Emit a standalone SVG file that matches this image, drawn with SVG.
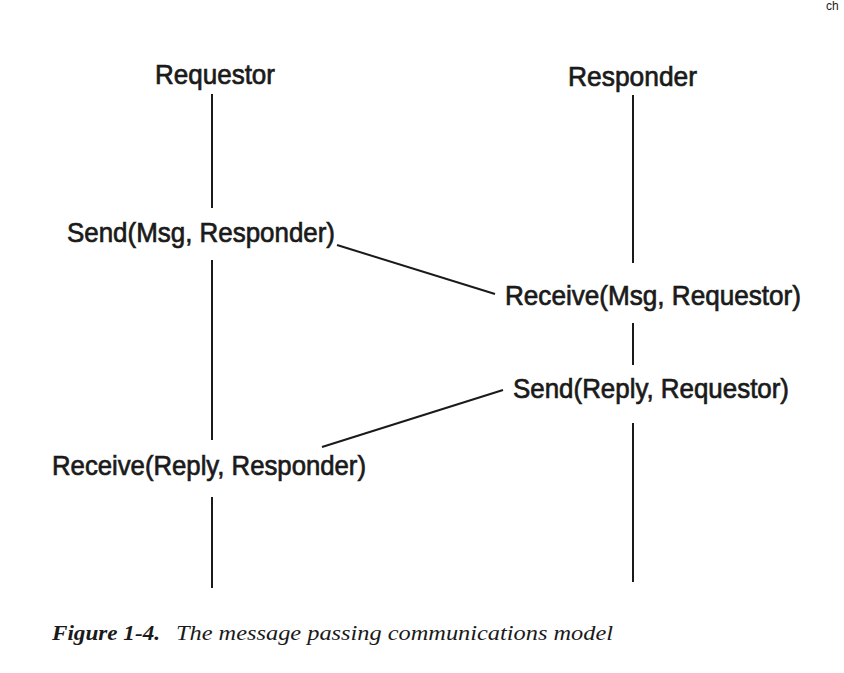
<svg xmlns="http://www.w3.org/2000/svg" width="844" height="673" viewBox="0 0 844 673">
<style>
.lbl{font-family:"Liberation Sans",Arial,sans-serif;font-size:28px;fill:#1a1a1a;stroke:#1a1a1a;stroke-width:0.7px}
.life{stroke:#1a1a1a;stroke-width:2;fill:none}
.msg{stroke:#1a1a1a;stroke-width:2;fill:none}
.cap{font-family:"Liberation Serif","Times New Roman",serif;font-size:21px;font-style:italic;fill:#1a1a1a}
</style>
<rect width="844" height="673" fill="#ffffff"/>
<text x="826" y="10" font-family="Liberation Sans, sans-serif" font-size="12" fill="#1a1a1a">ch</text>
<g id="lifelines">
<g id="requestor-lifeline">
<line class="life" x1="212" y1="94" x2="212" y2="208"/>
<line class="life" x1="212" y1="260" x2="212" y2="440"/>
<line class="life" x1="212" y1="497" x2="212" y2="588"/>
</g>
<g id="responder-lifeline">
<line class="life" x1="633" y1="95" x2="633" y2="263"/>
<line class="life" x1="633" y1="323" x2="633" y2="365"/>
<line class="life" x1="633" y1="423" x2="633" y2="582"/>
</g>
</g>
<g id="connectors">
<line class="msg" x1="337" y1="245" x2="495" y2="294"/>
<line class="msg" x1="503" y1="390" x2="322" y2="447"/>
</g>
<g id="requestor"><text class="lbl" x="155" y="84" textLength="120" lengthAdjust="spacingAndGlyphs">Requestor</text></g>
<g id="responder"><text class="lbl" x="568" y="86" textLength="129" lengthAdjust="spacingAndGlyphs">Responder</text></g>
<g id="send-msg"><text class="lbl" x="67" y="242" textLength="268" lengthAdjust="spacingAndGlyphs">Send(Msg, Responder)</text></g>
<g id="receive-msg"><text class="lbl" x="505" y="305" textLength="296" lengthAdjust="spacingAndGlyphs">Receive(Msg, Requestor)</text></g>
<g id="send-reply"><text class="lbl" x="513" y="398" textLength="276" lengthAdjust="spacingAndGlyphs">Send(Reply, Requestor)</text></g>
<g id="receive-reply"><text class="lbl" x="52" y="475" textLength="314" lengthAdjust="spacingAndGlyphs">Receive(Reply, Responder)</text></g>
<g id="caption">
<text class="cap" x="52" y="640" font-weight="bold" textLength="108" lengthAdjust="spacingAndGlyphs">Figure 1-4.</text>
<text class="cap" x="176" y="640" textLength="437" lengthAdjust="spacingAndGlyphs">The message passing communications model</text>
</g>
</svg>
